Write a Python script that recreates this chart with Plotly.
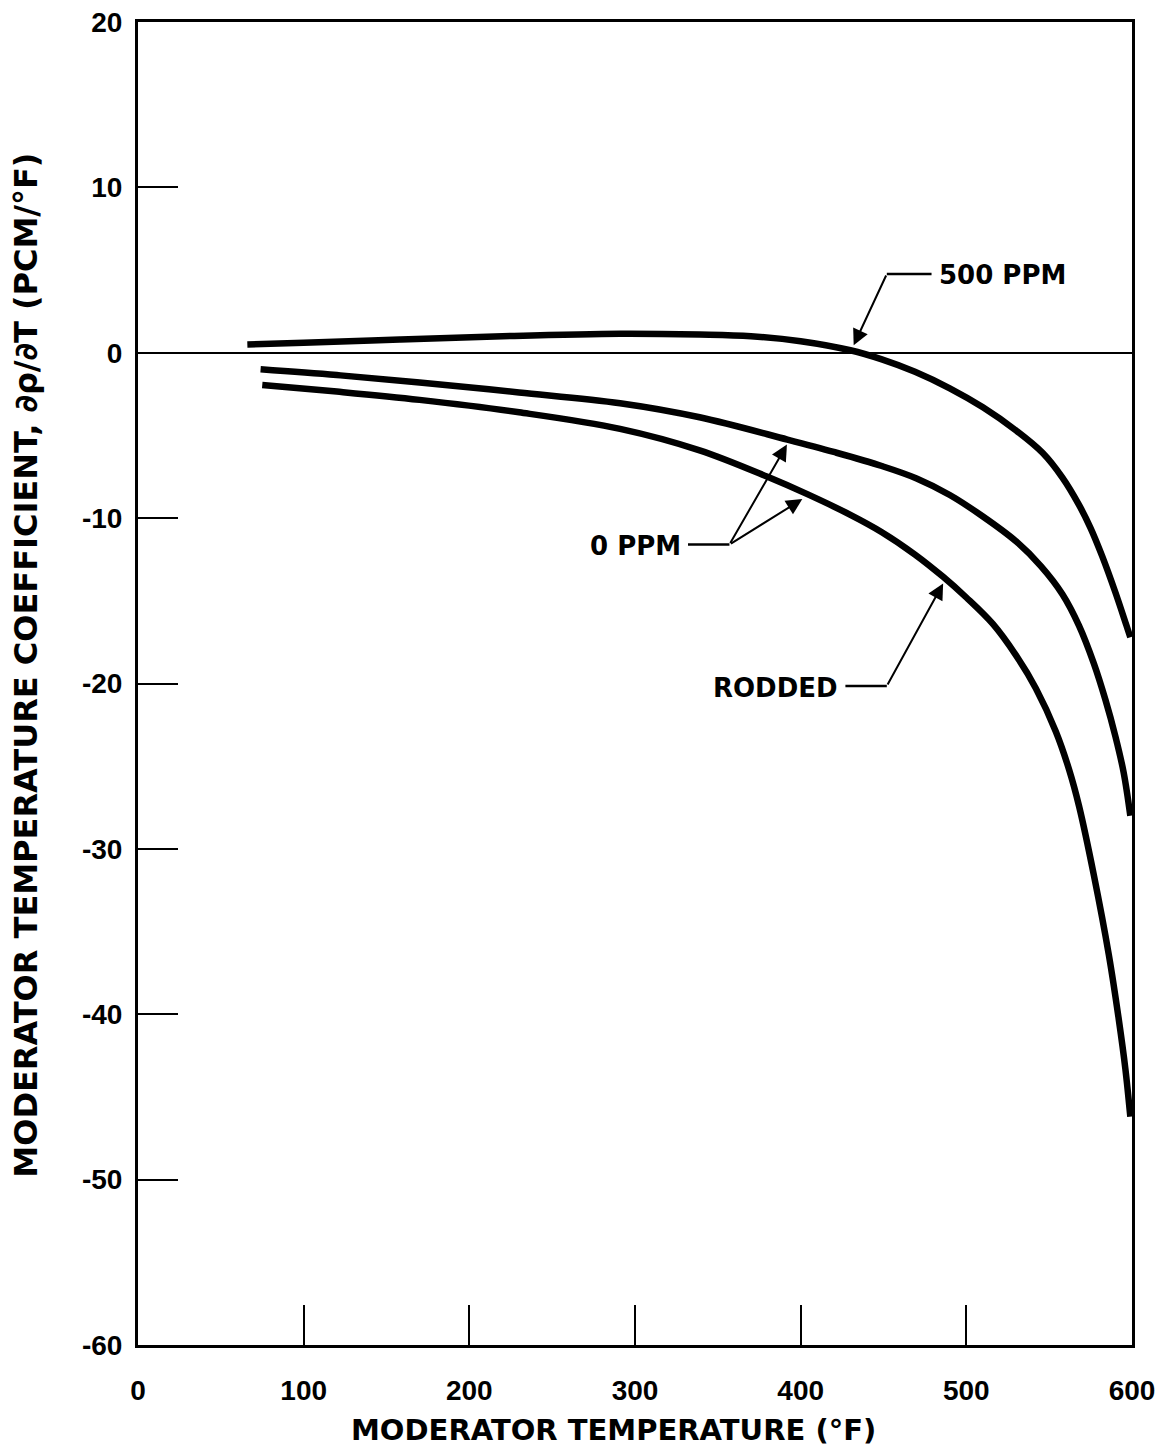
import plotly.graph_objects as go

# Moderator temperature (deg F) and coefficient (pcm/deg F)
ppm500_x = [66, 100, 158, 220, 291, 339, 370, 400, 430, 449, 469, 490, 510, 530, 546, 558, 568, 575, 582,
            590, 597, 599]
ppm500_y = [0.5, 0.6, 0.8, 1.0, 1.15, 1.1, 1.0, 0.7, 0.15, -0.4, -1.15, -2.15, -3.3, -4.7, -6.05, -7.55,
            -9.2, -10.6, -12.3, -14.5, -16.6, -17.2]

ppm0_x = [74, 120, 170, 230, 291, 339, 392, 420, 449, 470, 490, 510, 530, 545, 558, 568, 577, 584, 590,
          595, 599]
ppm0_y = [-1.0, -1.35, -1.8, -2.4, -3.05, -3.9, -5.25, -6.0, -6.85, -7.6, -8.6, -9.9, -11.4, -12.9, -14.6,
          -16.5, -18.8, -21.0, -23.2, -25.4, -28.0]

rodded_x = [75, 120, 170, 230, 291, 339, 380, 404, 430, 449, 469, 486, 500, 516, 530, 542, 554, 562, 568,
            577, 586, 592, 596, 599]
rodded_y = [-1.95, -2.35, -2.85, -3.6, -4.6, -5.9, -7.5, -8.55, -9.8, -10.85, -12.2, -13.55, -14.8, -16.4,
            -18.3, -20.3, -22.9, -25.2, -27.4, -31.6, -36.4, -40.3, -43.3, -46.2]

x_ticks = [0, 100, 200, 300, 400, 500, 600]
y_ticks = [-60, -50, -40, -30, -20, -10, 0, 10, 20]

x_title = "MODERATOR TEMPERATURE (°F)"
y_title = "MODERATOR TEMPERATURE COEFFICIENT, ∂ρ/∂T (PCM/°F)"

# Callout labels: (text, text x, text y, anchor, leader x0, leader x1, leader y, [(tip x, tip y), ...], tail x)
labels = [
    ("500 PPM", 482, 4.7, "left", 452, 479, 4.76, [(432, 0.45)], 452),
    ("0 PPM", 329, -11.7, "right", 332, 357, -11.6, [(391.7, -5.55), (401, -8.85)], 357),
    ("RODDED", 424, -20.3, "right", 427, 452, -20.15, [(486, -13.95)], 452),
]

FONT = "Liberation Sans, Arial, sans-serif"
DFONT = "DejaVu Sans, Liberation Sans, sans-serif"

fig = go.Figure()
for xs, ys in [(ppm500_x, ppm500_y), (ppm0_x, ppm0_y), (rodded_x, rodded_y)]:
    fig.add_trace(go.Scatter(x=xs, y=ys, mode="lines",
                             line=dict(color="black", width=6.5, shape="spline", smoothing=1.0),
                             showlegend=False, hoverinfo="skip"))

annotations = []
shapes = []
for text, tx, ty, anchor, lx0, lx1, ly, tips, tail in labels:
    annotations.append(dict(x=tx, y=ty, xref="x", yref="y", text=text, showarrow=False,
                            xanchor=anchor, yanchor="middle",
                            font=dict(family=DFONT, size=26, color="black", weight="bold")))
    shapes.append(dict(type="line", xref="x", yref="y", x0=lx0, x1=lx1, y0=ly, y1=ly,
                       line=dict(color="black", width=2.5)))
    for (px, py) in tips:
        annotations.append(dict(x=px, y=py, xref="x", yref="y", ax=tail, ay=ly,
                                axref="x", ayref="y", text="", showarrow=True,
                                arrowhead=2, arrowsize=1.6, arrowwidth=2, arrowcolor="black"))

annotations.append(dict(x=0.4785, y=-0.064, xref="paper", yref="paper", text=x_title,
                        showarrow=False, xanchor="center", yanchor="middle",
                        font=dict(family=DFONT, size=29, color="black", weight="bold")))
annotations.append(dict(x=-0.113, y=0.514, xref="paper", yref="paper", text=y_title,
                        showarrow=False, xanchor="center", yanchor="middle", textangle=-90,
                        font=dict(family=DFONT, size=32, color="black", weight="bold")))

fig.update_layout(
    width=1158, height=1455,
    margin=dict(l=138, r=26, t=22, b=110, autoexpand=False),
    paper_bgcolor="white", plot_bgcolor="white",
    annotations=annotations, shapes=shapes,
    font=dict(family=FONT, color="black"),
)
fig.update_xaxes(range=[0, 600], tickvals=x_ticks, ticktext=[str(v) for v in x_ticks],
                 ticks="inside", ticklen=40, tickwidth=2, tickcolor="black",
                 showline=True, linewidth=3, linecolor="black", mirror=True, automargin=False,
                 showgrid=False, zeroline=False, ticklabelstandoff=18,
                 tickfont=dict(family=FONT, size=28, color="black", weight="bold"))
fig.update_yaxes(range=[-60, 20], tickvals=y_ticks, ticktext=[str(v) for v in y_ticks],
                 ticks="inside", ticklen=40, tickwidth=2, tickcolor="black",
                 showline=True, linewidth=3, linecolor="black", mirror=True, automargin=False,
                 showgrid=False, zeroline=True, zerolinecolor="black", zerolinewidth=2,
                 ticklabelstandoff=7,
                 tickfont=dict(family=FONT, size=28, color="black", weight="bold"))

fig.write_html("out.html")
